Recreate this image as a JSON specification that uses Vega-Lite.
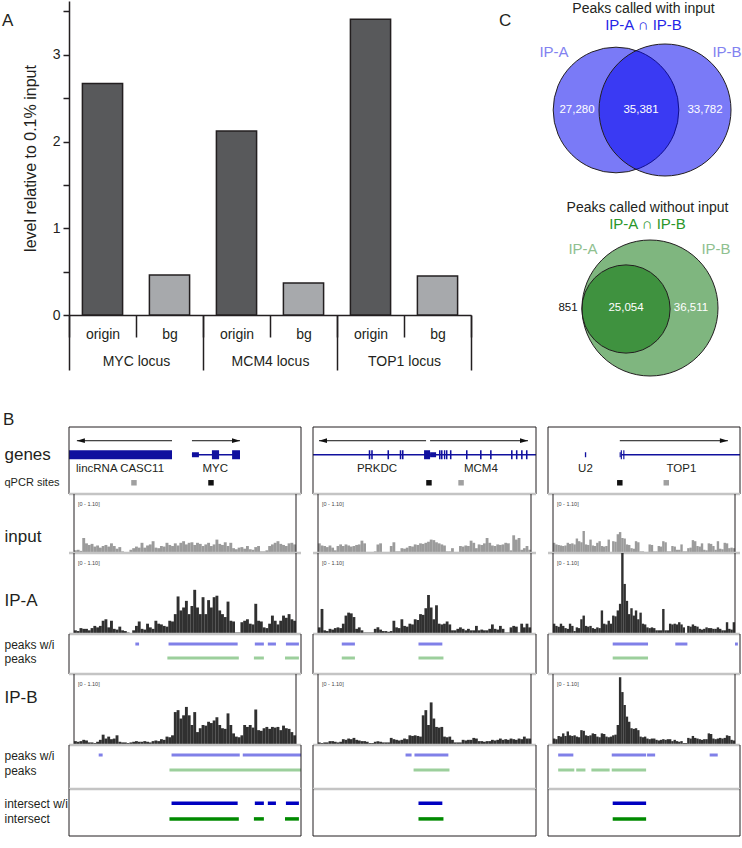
{
"$schema":"https://vega.github.io/schema/vega-lite/v6.json",
"background":"white",
"padding":{"left":2,"top":1,"right":0,"bottom":0},
"config":{
 "font":"Liberation Sans",
 "view":{"stroke":null},
 "axis":{"grid":false,"labelFont":"Liberation Sans","titleFont":"Liberation Sans","labelColor":"#231f20","titleColor":"#231f20","domainColor":"#231f20","tickColor":"#231f20","titleFontWeight":"normal"},
 "title":{"font":"Liberation Sans","subtitleFont":"Liberation Sans","fontWeight":"normal","color":"#231f20"},
 "text":{"font":"Liberation Sans"}
},
"datasets":{
"in1":[{"i":0,"v":0.05},{"i":1,"v":0.06},{"i":2,"v":0.04},{"i":3,"v":0.28},{"i":4,"v":0.18},{"i":5,"v":0.15},{"i":6,"v":0.17},{"i":7,"v":0.12},{"i":8,"v":0.14},{"i":9,"v":0.1},{"i":10,"v":0.13},{"i":11,"v":0.15},{"i":12,"v":0.12},{"i":13,"v":0.18},{"i":14,"v":0.13},{"i":15,"v":0.08},{"i":16,"v":0.11},{"i":17,"v":0.03},{"i":18,"v":0.01},{"i":19,"v":0.01},{"i":20,"v":0.06},{"i":21,"v":0.09},{"i":22,"v":0.12},{"i":23,"v":0.1},{"i":24,"v":0.19},{"i":25,"v":0.1},{"i":26,"v":0.14},{"i":27,"v":0.16},{"i":28,"v":0.22},{"i":29,"v":0.1},{"i":30,"v":0.09},{"i":31,"v":0.13},{"i":32,"v":0.12},{"i":33,"v":0.19},{"i":34,"v":0.15},{"i":35,"v":0.13},{"i":36,"v":0.18},{"i":37,"v":0.14},{"i":38,"v":0.19},{"i":39,"v":0.22},{"i":40,"v":0.16},{"i":41,"v":0.19},{"i":42,"v":0.2},{"i":43,"v":0.15},{"i":44,"v":0.19},{"i":45,"v":0.17},{"i":46,"v":0.13},{"i":47,"v":0.16},{"i":48,"v":0.19},{"i":49,"v":0.13},{"i":50,"v":0.16},{"i":51,"v":0.25},{"i":52,"v":0.17},{"i":53,"v":0.15},{"i":54,"v":0.2},{"i":55,"v":0.13},{"i":56,"v":0.19},{"i":57,"v":0.09},{"i":58,"v":0.07},{"i":59,"v":0.1},{"i":60,"v":0.11},{"i":61,"v":0.08},{"i":62,"v":0.13},{"i":63,"v":0.07},{"i":64,"v":0.06},{"i":65,"v":0.11},{"i":66,"v":0.13},{"i":67,"v":0.03},{"i":68,"v":0.03},{"i":69,"v":0.05},{"i":70,"v":0.13},{"i":71,"v":0.16},{"i":72,"v":0.19},{"i":73,"v":0.22},{"i":74,"v":0.17},{"i":75,"v":0.15},{"i":76,"v":0.13},{"i":77,"v":0.18},{"i":78,"v":0.19},{"i":79,"v":0.16}],
"a1":[{"i":0,"v":0.05},{"i":1,"v":0.04},{"i":2,"v":0.08},{"i":3,"v":0.07},{"i":4,"v":0.07},{"i":5,"v":0.05},{"i":6,"v":0.08},{"i":7,"v":0.11},{"i":8,"v":0.09},{"i":9,"v":0.11},{"i":10,"v":0.18},{"i":11,"v":0.2},{"i":12,"v":0.09},{"i":13,"v":0.18},{"i":14,"v":0.07},{"i":15,"v":0.06},{"i":16,"v":0.1},{"i":17,"v":0.05},{"i":18,"v":0.04},{"i":19,"v":0.02},{"i":20,"v":0.01},{"i":21,"v":0.05},{"i":22,"v":0.11},{"i":23,"v":0.17},{"i":24,"v":0.07},{"i":25,"v":0.06},{"i":26,"v":0.14},{"i":27,"v":0.09},{"i":28,"v":0.07},{"i":29,"v":0.18},{"i":30,"v":0.14},{"i":31,"v":0.13},{"i":32,"v":0.11},{"i":33,"v":0.1},{"i":34,"v":0.18},{"i":35,"v":0.17},{"i":36,"v":0.27},{"i":37,"v":0.51},{"i":38,"v":0.32},{"i":39,"v":0.36},{"i":40,"v":0.45},{"i":41,"v":0.27},{"i":42,"v":0.38},{"i":43,"v":0.6},{"i":44,"v":0.36},{"i":45,"v":0.27},{"i":46,"v":0.5},{"i":47,"v":0.27},{"i":48,"v":0.46},{"i":49,"v":0.36},{"i":50,"v":0.5},{"i":51,"v":0.52},{"i":52,"v":0.32},{"i":53,"v":0.27},{"i":54,"v":0.23},{"i":55,"v":0.44},{"i":56,"v":0.18},{"i":57,"v":0.17},{"i":58,"v":0.02},{"i":59,"v":0.02},{"i":60,"v":0.16},{"i":61,"v":0.18},{"i":62,"v":0.2},{"i":63,"v":0.14},{"i":64,"v":0.13},{"i":65,"v":0.41},{"i":66,"v":0.18},{"i":67,"v":0.17},{"i":68,"v":0.09},{"i":69,"v":0.08},{"i":70,"v":0.14},{"i":71,"v":0.25},{"i":72,"v":0.18},{"i":73,"v":0.13},{"i":74,"v":0.18},{"i":75,"v":0.25},{"i":76,"v":0.22},{"i":77,"v":0.27},{"i":78,"v":0.2},{"i":79,"v":0.18}],
"b1":[{"i":0,"v":0.06},{"i":1,"v":0.05},{"i":2,"v":0.06},{"i":3,"v":0.08},{"i":4,"v":0.07},{"i":5,"v":0.04},{"i":6,"v":0.04},{"i":7,"v":0.03},{"i":8,"v":0.05},{"i":9,"v":0.08},{"i":10,"v":0.16},{"i":11,"v":0.1},{"i":12,"v":0.13},{"i":13,"v":0.09},{"i":14,"v":0.1},{"i":15,"v":0.15},{"i":16,"v":0.05},{"i":17,"v":0.04},{"i":18,"v":0.04},{"i":19,"v":0.03},{"i":20,"v":0.04},{"i":21,"v":0.05},{"i":22,"v":0.06},{"i":23,"v":0.05},{"i":24,"v":0.05},{"i":25,"v":0.06},{"i":26,"v":0.05},{"i":27,"v":0.04},{"i":28,"v":0.06},{"i":29,"v":0.07},{"i":30,"v":0.06},{"i":31,"v":0.09},{"i":32,"v":0.08},{"i":33,"v":0.13},{"i":34,"v":0.12},{"i":35,"v":0.15},{"i":36,"v":0.51},{"i":37,"v":0.54},{"i":38,"v":0.41},{"i":39,"v":0.46},{"i":40,"v":0.59},{"i":41,"v":0.46},{"i":42,"v":0.31},{"i":43,"v":0.51},{"i":44,"v":0.2},{"i":45,"v":0.26},{"i":46,"v":0.31},{"i":47,"v":0.3},{"i":48,"v":0.36},{"i":49,"v":0.34},{"i":50,"v":0.38},{"i":51,"v":0.43},{"i":52,"v":0.31},{"i":53,"v":0.26},{"i":54,"v":0.25},{"i":55,"v":0.49},{"i":56,"v":0.31},{"i":57,"v":0.18},{"i":58,"v":0.13},{"i":59,"v":0.12},{"i":60,"v":0.15},{"i":61,"v":0.31},{"i":62,"v":0.28},{"i":63,"v":0.31},{"i":64,"v":0.27},{"i":65,"v":0.55},{"i":66,"v":0.23},{"i":67,"v":0.22},{"i":68,"v":0.26},{"i":69,"v":0.28},{"i":70,"v":0.25},{"i":71,"v":0.28},{"i":72,"v":0.27},{"i":73,"v":0.28},{"i":74,"v":0.23},{"i":75,"v":0.3},{"i":76,"v":0.26},{"i":77,"v":0.25},{"i":78,"v":0.2},{"i":79,"v":0.15}],
"in2":[{"i":0,"v":0.18},{"i":1,"v":0.14},{"i":2,"v":0.13},{"i":3,"v":0.11},{"i":4,"v":0.14},{"i":5,"v":0.1},{"i":6,"v":0.05},{"i":7,"v":0.13},{"i":8,"v":0.16},{"i":9,"v":0.13},{"i":10,"v":0.16},{"i":11,"v":0.14},{"i":12,"v":0.12},{"i":13,"v":0.13},{"i":14,"v":0.15},{"i":15,"v":0.16},{"i":16,"v":0.23},{"i":17,"v":0.18},{"i":18,"v":0.02},{"i":19,"v":0.02},{"i":20,"v":0.02},{"i":21,"v":0.03},{"i":22,"v":0.16},{"i":23,"v":0.18},{"i":24,"v":0.02},{"i":25,"v":0.02},{"i":26,"v":0.02},{"i":27,"v":0.13},{"i":28,"v":0.2},{"i":29,"v":0.03},{"i":30,"v":0.03},{"i":31,"v":0.09},{"i":32,"v":0.08},{"i":33,"v":0.1},{"i":34,"v":0.13},{"i":35,"v":0.12},{"i":36,"v":0.16},{"i":37,"v":0.15},{"i":38,"v":0.18},{"i":39,"v":0.17},{"i":40,"v":0.19},{"i":41,"v":0.21},{"i":42,"v":0.25},{"i":43,"v":0.24},{"i":44,"v":0.2},{"i":45,"v":0.18},{"i":46,"v":0.16},{"i":47,"v":0.14},{"i":48,"v":0.03},{"i":49,"v":0.03},{"i":50,"v":0.09},{"i":51,"v":0.02},{"i":52,"v":0.02},{"i":53,"v":0.13},{"i":54,"v":0.12},{"i":55,"v":0.14},{"i":56,"v":0.13},{"i":57,"v":0.23},{"i":58,"v":0.19},{"i":59,"v":0.09},{"i":60,"v":0.16},{"i":61,"v":0.15},{"i":62,"v":0.18},{"i":63,"v":0.28},{"i":64,"v":0.19},{"i":65,"v":0.14},{"i":66,"v":0.13},{"i":67,"v":0.16},{"i":68,"v":0.15},{"i":69,"v":0.16},{"i":70,"v":0.19},{"i":71,"v":0.18},{"i":72,"v":0.05},{"i":73,"v":0.33},{"i":74,"v":0.25},{"i":75,"v":0.28},{"i":76,"v":0.06},{"i":77,"v":0.09},{"i":78,"v":0.13},{"i":79,"v":0.06}],
"a2":[{"i":0,"v":0.09},{"i":1,"v":0.34},{"i":2,"v":0.05},{"i":3,"v":0.04},{"i":4,"v":0.07},{"i":5,"v":0.06},{"i":6,"v":0.08},{"i":7,"v":0.09},{"i":8,"v":0.08},{"i":9,"v":0.14},{"i":10,"v":0.25},{"i":11,"v":0.29},{"i":12,"v":0.28},{"i":13,"v":0.23},{"i":14,"v":0.07},{"i":15,"v":0.09},{"i":16,"v":0.05},{"i":17,"v":0.02},{"i":18,"v":0.02},{"i":19,"v":0.02},{"i":20,"v":0.02},{"i":21,"v":0.07},{"i":22,"v":0.09},{"i":23,"v":0.06},{"i":24,"v":0.04},{"i":25,"v":0.04},{"i":26,"v":0.03},{"i":27,"v":0.04},{"i":28,"v":0.18},{"i":29,"v":0.09},{"i":30,"v":0.08},{"i":31,"v":0.2},{"i":32,"v":0.11},{"i":33,"v":0.1},{"i":34,"v":0.14},{"i":35,"v":0.13},{"i":36,"v":0.2},{"i":37,"v":0.19},{"i":38,"v":0.27},{"i":39,"v":0.26},{"i":40,"v":0.35},{"i":41,"v":0.53},{"i":42,"v":0.36},{"i":43,"v":0.2},{"i":44,"v":0.39},{"i":45,"v":0.14},{"i":46,"v":0.13},{"i":47,"v":0.14},{"i":48,"v":0.17},{"i":49,"v":0.13},{"i":50,"v":0.05},{"i":51,"v":0.05},{"i":52,"v":0.07},{"i":53,"v":0.09},{"i":54,"v":0.07},{"i":55,"v":0.05},{"i":56,"v":0.07},{"i":57,"v":0.05},{"i":58,"v":0.05},{"i":59,"v":0.11},{"i":60,"v":0.05},{"i":61,"v":0.06},{"i":62,"v":0.05},{"i":63,"v":0.05},{"i":64,"v":0.07},{"i":65,"v":0.13},{"i":66,"v":0.07},{"i":67,"v":0.06},{"i":68,"v":0.11},{"i":69,"v":0.07},{"i":70,"v":0.02},{"i":71,"v":0.02},{"i":72,"v":0.09},{"i":73,"v":0.11},{"i":74,"v":0.1},{"i":75,"v":0.02},{"i":76,"v":0.14},{"i":77,"v":0.09},{"i":78,"v":0.14},{"i":79,"v":0.09}],
"b2":[{"i":0,"v":0.04},{"i":1,"v":0.03},{"i":2,"v":0.04},{"i":3,"v":0.04},{"i":4,"v":0.06},{"i":5,"v":0.06},{"i":6,"v":0.05},{"i":7,"v":0.04},{"i":8,"v":0.05},{"i":9,"v":0.09},{"i":10,"v":0.08},{"i":11,"v":0.1},{"i":12,"v":0.09},{"i":13,"v":0.11},{"i":14,"v":0.08},{"i":15,"v":0.07},{"i":16,"v":0.06},{"i":17,"v":0.06},{"i":18,"v":0.05},{"i":19,"v":0.03},{"i":20,"v":0.03},{"i":21,"v":0.05},{"i":22,"v":0.06},{"i":23,"v":0.05},{"i":24,"v":0.04},{"i":25,"v":0.04},{"i":26,"v":0.04},{"i":27,"v":0.11},{"i":28,"v":0.09},{"i":29,"v":0.08},{"i":30,"v":0.07},{"i":31,"v":0.08},{"i":32,"v":0.1},{"i":33,"v":0.09},{"i":34,"v":0.15},{"i":35,"v":0.14},{"i":36,"v":0.15},{"i":37,"v":0.14},{"i":38,"v":0.13},{"i":39,"v":0.46},{"i":40,"v":0.54},{"i":41,"v":0.31},{"i":42,"v":0.66},{"i":43,"v":0.41},{"i":44,"v":0.28},{"i":45,"v":0.27},{"i":46,"v":0.28},{"i":47,"v":0.13},{"i":48,"v":0.12},{"i":49,"v":0.13},{"i":50,"v":0.08},{"i":51,"v":0.04},{"i":52,"v":0.04},{"i":53,"v":0.04},{"i":54,"v":0.08},{"i":55,"v":0.07},{"i":56,"v":0.08},{"i":57,"v":0.08},{"i":58,"v":0.11},{"i":59,"v":0.1},{"i":60,"v":0.06},{"i":61,"v":0.06},{"i":62,"v":0.05},{"i":63,"v":0.06},{"i":64,"v":0.06},{"i":65,"v":0.08},{"i":66,"v":0.07},{"i":67,"v":0.08},{"i":68,"v":0.1},{"i":69,"v":0.08},{"i":70,"v":0.09},{"i":71,"v":0.08},{"i":72,"v":0.1},{"i":73,"v":0.09},{"i":74,"v":0.08},{"i":75,"v":0.1},{"i":76,"v":0.09},{"i":77,"v":0.13},{"i":78,"v":0.1},{"i":79,"v":0.1}],
"in3":[{"i":0,"v":0.19},{"i":1,"v":0.16},{"i":2,"v":0.15},{"i":3,"v":0.14},{"i":4,"v":0.13},{"i":5,"v":0.14},{"i":6,"v":0.19},{"i":7,"v":0.17},{"i":8,"v":0.18},{"i":9,"v":0.16},{"i":10,"v":0.27},{"i":11,"v":0.22},{"i":12,"v":0.2},{"i":13,"v":0.41},{"i":14,"v":0.16},{"i":15,"v":0.15},{"i":16,"v":0.25},{"i":17,"v":0.14},{"i":18,"v":0.13},{"i":19,"v":0.19},{"i":20,"v":0.22},{"i":21,"v":0.13},{"i":22,"v":0.12},{"i":23,"v":0.13},{"i":24,"v":0.25},{"i":25,"v":0.02},{"i":26,"v":0.22},{"i":27,"v":0.21},{"i":28,"v":0.35},{"i":29,"v":0.39},{"i":30,"v":0.28},{"i":31,"v":0.27},{"i":32,"v":0.16},{"i":33,"v":0.15},{"i":34,"v":0.09},{"i":35,"v":0.08},{"i":36,"v":0.22},{"i":37,"v":0.2},{"i":38,"v":0.03},{"i":39,"v":0.03},{"i":40,"v":0.02},{"i":41,"v":0.02},{"i":42,"v":0.16},{"i":43,"v":0.15},{"i":44,"v":0.03},{"i":45,"v":0.03},{"i":46,"v":0.13},{"i":47,"v":0.12},{"i":48,"v":0.22},{"i":49,"v":0.2},{"i":50,"v":0.03},{"i":51,"v":0.03},{"i":52,"v":0.13},{"i":53,"v":0.12},{"i":54,"v":0.06},{"i":55,"v":0.06},{"i":56,"v":0.16},{"i":57,"v":0.03},{"i":58,"v":0.03},{"i":59,"v":0.09},{"i":60,"v":0.1},{"i":61,"v":0.24},{"i":62,"v":0.22},{"i":63,"v":0.13},{"i":64,"v":0.12},{"i":65,"v":0.18},{"i":66,"v":0.06},{"i":67,"v":0.05},{"i":68,"v":0.18},{"i":69,"v":0.17},{"i":70,"v":0.13},{"i":71,"v":0.06},{"i":72,"v":0.22},{"i":73,"v":0.08},{"i":74,"v":0.07},{"i":75,"v":0.19},{"i":76,"v":0.18},{"i":77,"v":0.09},{"i":78,"v":0.1},{"i":79,"v":0.09}],
"a3":[{"i":0,"v":0.14},{"i":1,"v":0.11},{"i":2,"v":0.1},{"i":3,"v":0.14},{"i":4,"v":0.11},{"i":5,"v":0.08},{"i":6,"v":0.07},{"i":7,"v":0.14},{"i":8,"v":0.11},{"i":9,"v":0.04},{"i":10,"v":0.09},{"i":11,"v":0.08},{"i":12,"v":0.2},{"i":13,"v":0.25},{"i":14,"v":0.11},{"i":15,"v":0.1},{"i":16,"v":0.11},{"i":17,"v":0.08},{"i":18,"v":0.07},{"i":19,"v":0.09},{"i":20,"v":0.08},{"i":21,"v":0.32},{"i":22,"v":0.14},{"i":23,"v":0.13},{"i":24,"v":0.18},{"i":25,"v":0.14},{"i":26,"v":0.25},{"i":27,"v":0.24},{"i":28,"v":0.32},{"i":29,"v":0.41},{"i":30,"v":1.1},{"i":31,"v":0.68},{"i":32,"v":0.45},{"i":33,"v":0.27},{"i":34,"v":0.35},{"i":35,"v":0.25},{"i":36,"v":0.32},{"i":37,"v":0.2},{"i":38,"v":0.29},{"i":39,"v":0.14},{"i":40,"v":0.13},{"i":41,"v":0.09},{"i":42,"v":0.08},{"i":43,"v":0.09},{"i":44,"v":0.08},{"i":45,"v":0.05},{"i":46,"v":0.05},{"i":47,"v":0.05},{"i":48,"v":0.34},{"i":49,"v":0.05},{"i":50,"v":0.05},{"i":51,"v":0.14},{"i":52,"v":0.13},{"i":53,"v":0.14},{"i":54,"v":0.13},{"i":55,"v":0.16},{"i":56,"v":0.13},{"i":57,"v":0.09},{"i":58,"v":0.01},{"i":59,"v":0.11},{"i":60,"v":0.1},{"i":61,"v":0.13},{"i":62,"v":0.11},{"i":63,"v":0.1},{"i":64,"v":0.07},{"i":65,"v":0.06},{"i":66,"v":0.07},{"i":67,"v":0.09},{"i":68,"v":0.08},{"i":69,"v":0.08},{"i":70,"v":0.07},{"i":71,"v":0.07},{"i":72,"v":0.09},{"i":73,"v":0.07},{"i":74,"v":0.05},{"i":75,"v":0.05},{"i":76,"v":0.16},{"i":77,"v":0.07},{"i":78,"v":0.06},{"i":79,"v":0.16}],
"b3":[{"i":0,"v":0.1},{"i":1,"v":0.09},{"i":2,"v":0.14},{"i":3,"v":0.13},{"i":4,"v":0.18},{"i":5,"v":0.14},{"i":6,"v":0.21},{"i":7,"v":0.15},{"i":8,"v":0.14},{"i":9,"v":0.15},{"i":10,"v":0.13},{"i":11,"v":0.12},{"i":12,"v":0.23},{"i":13,"v":0.22},{"i":14,"v":0.15},{"i":15,"v":0.14},{"i":16,"v":0.15},{"i":17,"v":0.18},{"i":18,"v":0.17},{"i":19,"v":0.13},{"i":20,"v":0.12},{"i":21,"v":0.18},{"i":22,"v":0.17},{"i":23,"v":0.13},{"i":24,"v":0.12},{"i":25,"v":0.13},{"i":26,"v":0.15},{"i":27,"v":0.16},{"i":28,"v":0.31},{"i":29,"v":1.05},{"i":30,"v":0.82},{"i":31,"v":0.62},{"i":32,"v":0.44},{"i":33,"v":0.36},{"i":34,"v":0.26},{"i":35,"v":0.25},{"i":36,"v":0.26},{"i":37,"v":0.23},{"i":38,"v":0.13},{"i":39,"v":0.12},{"i":40,"v":0.13},{"i":41,"v":0.1},{"i":42,"v":0.09},{"i":43,"v":0.1},{"i":44,"v":0.1},{"i":45,"v":0.08},{"i":46,"v":0.07},{"i":47,"v":0.08},{"i":48,"v":0.09},{"i":49,"v":0.08},{"i":50,"v":0.09},{"i":51,"v":0.09},{"i":52,"v":0.06},{"i":53,"v":0.08},{"i":54,"v":0.06},{"i":55,"v":0.05},{"i":56,"v":0.06},{"i":57,"v":0.03},{"i":58,"v":0.03},{"i":59,"v":0.11},{"i":60,"v":0.1},{"i":61,"v":0.14},{"i":62,"v":0.11},{"i":63,"v":0.1},{"i":64,"v":0.09},{"i":65,"v":0.08},{"i":66,"v":0.09},{"i":67,"v":0.09},{"i":68,"v":0.18},{"i":69,"v":0.17},{"i":70,"v":0.1},{"i":71,"v":0.09},{"i":72,"v":0.1},{"i":73,"v":0.11},{"i":74,"v":0.1},{"i":75,"v":0.11},{"i":76,"v":0.15},{"i":77,"v":0.14},{"i":78,"v":0.08},{"i":79,"v":0.07}]
},
"vconcat":[
 {"hconcat":[
   {"width":402,"height":314,
    "title":{"text":"A","anchor":"start","frame":"group","baseline":"top","offset":-29,"dx":-67,"fontSize":17},
    "data":{"values":[
      {"locus":"MYC locus","site":"origin","key":"MYC origin","v":2.67},
      {"locus":"MYC locus","site":"bg","key":"MYC bg","v":0.46},
      {"locus":"MCM4 locus","site":"origin","key":"MCM4 origin","v":2.12},
      {"locus":"MCM4 locus","site":"bg","key":"MCM4 bg","v":0.37},
      {"locus":"TOP1 locus","site":"origin","key":"TOP1 origin","v":3.41},
      {"locus":"TOP1 locus","site":"bg","key":"TOP1 bg","v":0.45}]},
    "layer":[
      {"mark":{"type":"bar","stroke":"#231f20","strokeWidth":1.5,"width":{"band":0.6}},
       "encoding":{
         "x":{"field":"key","type":"nominal","sort":null,"scale":{"paddingInner":0,"paddingOuter":0},
              "axis":{"orient":"bottom","title":null,"labelExpr":"split(datum.value,' ')[1]","labelAngle":0,"tickBand":"extent","tickSize":22,"tickWidth":1.5,"domainWidth":1.5,"labelPadding":-10,"labelFontSize":14}},
         "y":{"field":"v","type":"quantitative","scale":{"domain":[0,3.62],"nice":false},
              "axis":{"values":[0,0.5,1,1.5,2,2.5,3,3.5],"labelExpr":"datum.value % 1 === 0 ? '' + datum.value : ''","tickSize":6,"tickWidth":1.5,"domainWidth":1.5,"labelFontSize":14,"labelPadding":3,"title":"level relative to 0.1% input","titleFontSize":16,"titlePadding":14}},
         "color":{"field":"site","type":"nominal","scale":{"domain":["origin","bg"],"range":["#58595b","#a7a9ac"]},"legend":null}}},
      {"mark":{"type":"rule","strokeOpacity":0},
       "encoding":{"x":{"field":"locus","type":"nominal","sort":null,"scale":{"type":"band","paddingInner":0,"paddingOuter":0},
         "axis":{"orient":"bottom","title":null,"domain":false,"tickBand":"extent","tickSize":55,"tickWidth":1.5,"labelPadding":-16,"labelFontSize":14,"labelAngle":0}}}}
    ],
    "resolve":{"scale":{"x":"independent"},"axis":{"x":"independent"}}},
   {"vconcat":[
     {"width":247,"height":185,
      "title":{"text":"Peaks called with input","subtitle":"IP-A ∩ IP-B","anchor":"middle","frame":"group","dx":25,"fontSize":14,"subtitleFontSize":15,"subtitleColor":"#2525e6","subtitlePadding":2,"offset":-32},
      "layer":[
        {"data":{"values":[{"set":"IP-A","n":62661,"cx":12.1,"cy":7.6},{"set":"IP-B","n":69163,"cx":17.0,"cy":7.6}]},
         "mark":{"type":"point","shape":"circle","filled":true,"color":"#0000f0","fillOpacity":0.52,"stroke":"#231f20","strokeWidth":1,"strokeOpacity":1,"opacity":1},
         "encoding":{
           "x":{"field":"cx","type":"quantitative","scale":{"domain":[0,24.7],"nice":false,"zero":false},"axis":null},
           "y":{"field":"cy","type":"quantitative","scale":{"domain":[0,18.5],"nice":false,"zero":false},"axis":null},
           "size":{"field":"n","type":"quantitative","scale":{"domain":[0,69163],"range":[0,17424],"zero":true},"legend":null}}},
        {"data":{"values":[{"t":"IP-A","x":5.9,"y":13.4},{"t":"IP-B","x":23.2,"y":13.4}]},
         "mark":{"type":"text","fontSize":15,"color":"#8282f0"},
         "encoding":{"x":{"field":"x","type":"quantitative","axis":null},"y":{"field":"y","type":"quantitative","axis":null},"text":{"field":"t"}}},
        {"data":{"values":[{"t":"27,280","x":8.2,"y":7.6},{"t":"35,381","x":14.6,"y":7.6},{"t":"33,782","x":21.0,"y":7.6}]},
         "mark":{"type":"text","fontSize":11.5,"color":"white"},
         "encoding":{"x":{"field":"x","type":"quantitative","axis":null},"y":{"field":"y","type":"quantitative","axis":null},"text":{"field":"t"}}}
      ]},
     {"width":247,"height":185,
      "title":{"text":"Peaks called without input","subtitle":"IP-A ∩ IP-B","anchor":"middle","frame":"group","dx":29,"fontSize":14,"subtitleFontSize":15,"subtitleColor":"#2a962a","subtitlePadding":2,"offset":-32},
      "layer":[
        {"data":{"values":[{"set":"IP-B","n":61565,"cx":15.5,"cy":7.7},{"set":"IP-A","n":25905,"cx":13.1,"cy":7.6}]},
         "mark":{"type":"point","shape":"circle","filled":true,"color":"#006e00","fillOpacity":0.5,"stroke":"#231f20","strokeWidth":1,"strokeOpacity":1,"opacity":1},
         "encoding":{
           "x":{"field":"cx","type":"quantitative","scale":{"domain":[0,24.7],"nice":false,"zero":false},"axis":null},
           "y":{"field":"cy","type":"quantitative","scale":{"domain":[0,18.5],"nice":false,"zero":false},"axis":null},
           "size":{"field":"n","type":"quantitative","scale":{"domain":[0,61565],"range":[0,18496],"zero":true},"legend":null}}},
        {"data":{"values":[{"t":"IP-A","x":8.8,"y":13.6},{"t":"IP-B","x":22.1,"y":13.6}]},
         "mark":{"type":"text","fontSize":15,"color":"#8fc08f"},
         "encoding":{"x":{"field":"x","type":"quantitative","axis":null},"y":{"field":"y","type":"quantitative","axis":null},"text":{"field":"t"}}},
        {"data":{"values":[{"t":"25,054","x":13.1,"y":7.7},{"t":"36,511","x":19.6,"y":7.7}]},
         "mark":{"type":"text","fontSize":11.5,"color":"white"},
         "encoding":{"x":{"field":"x","type":"quantitative","axis":null},"y":{"field":"y","type":"quantitative","axis":null},"text":{"field":"t"}}},
        {"data":{"values":[{"t":"851","x":7.3,"y":7.7}]},
         "mark":{"type":"text","fontSize":11.5,"color":"#111111"},
         "encoding":{"x":{"field":"x","type":"quantitative","axis":null},"y":{"field":"y","type":"quantitative","axis":null},"text":{"field":"t"}}}
      ]}
   ],"spacing":14,
   "resolve":{"scale":{"size":"independent"}},
   "title":{"text":"C","anchor":"start","frame":"group","baseline":"top","offset":-29,"dx":4,"fontSize":17}}
 ],"spacing":23},
 {"hconcat":[
   {"vconcat":[
     {"width":232,"height":67,
      "data":{"values":[{"f":"cds","s":0,"e":44.4},{"f":"line","s":53,"e":73.7},{"f":"utr","s":53,"e":56},{"f":"cds","s":61.6,"e":64.7},{"f":"cds","s":70.3,"e":73.7},{"f":"arrow","s":3.4,"e":44.4,"strand":"-"},{"f":"arrow","s":53,"e":73.7,"strand":"+"},{"f":"name","gene":"lincRNA CASC11","p":22},{"f":"name","gene":"MYC","p":63},{"f":"qpcr","site":"bg","p":28},{"f":"qpcr","site":"origin","p":61.2}]},
      "layer":[
        {"transform":[{"filter":"datum.f=='line'"}],"mark":{"type":"rule","color":"#10109e","strokeWidth":1.5},
         "encoding":{"x":{"field":"s","type":"quantitative","scale":{"domain":[0,100],"nice":false,"zero":false},"axis":null},"x2":{"field":"e"},
           "y":{"datum":"gene","type":"nominal","scale":{"type":"point","domain":["arrow","gene","name","qpcr"],"padding":0.89,"align":0.55},
             "axis":{"title":null,"domain":false,"ticks":false,"tickSize":0,"labelAlign":"left","labelPadding":65,"labelOverlap":false,"labelExpr":"datum.value=='gene'?'genes':datum.value=='qpcr'?'qPCR sites':''","labelFontSize":{"condition":{"test":"datum.value=='gene'","value":17},"value":11}}}}},
        {"transform":[{"filter":"datum.f=='cds'"}],"mark":{"type":"rule","color":"#10109e","strokeWidth":9,"strokeCap":"butt"},
         "encoding":{"x":{"field":"s","type":"quantitative","axis":null},"x2":{"field":"e"},"y":{"datum":"gene","type":"nominal"}}},
        {"transform":[{"filter":"datum.f=='utr'"}],"mark":{"type":"rule","color":"#10109e","strokeWidth":5,"strokeCap":"butt"},
         "encoding":{"x":{"field":"s","type":"quantitative","axis":null},"x2":{"field":"e"},"y":{"datum":"gene","type":"nominal"}}},
        {"transform":[{"filter":"datum.f=='arrow'"}],"mark":{"type":"rule","color":"#111111","strokeWidth":1},
         "encoding":{"x":{"field":"s","type":"quantitative","axis":null},"x2":{"field":"e"},"y":{"datum":"arrow","type":"nominal"}}},
        {"transform":[{"filter":"datum.f=='arrow' && datum.strand=='-'"}],"mark":{"type":"point","shape":"M0,0L2,-0.6L2,0.6Z","filled":true,"color":"#111111","size":64,"opacity":1},
         "encoding":{"x":{"field":"s","type":"quantitative","axis":null},"y":{"datum":"arrow","type":"nominal"}}},
        {"transform":[{"filter":"datum.f=='arrow' && datum.strand=='+'"}],"mark":{"type":"point","shape":"M0,0L-2,-0.6L-2,0.6Z","filled":true,"color":"#111111","size":64,"opacity":1},
         "encoding":{"x":{"field":"e","type":"quantitative","axis":null},"y":{"datum":"arrow","type":"nominal"}}},
        {"transform":[{"filter":"datum.f=='name'"}],"mark":{"type":"text","fontSize":11.5,"color":"#231f20"},
         "encoding":{"x":{"field":"p","type":"quantitative","axis":null},"y":{"datum":"name","type":"nominal"},"text":{"field":"gene"}}},
        {"transform":[{"filter":"datum.f=='qpcr' && datum.site=='origin'"}],"mark":{"type":"point","shape":"square","filled":true,"size":30,"opacity":1,"color":"#111111"},
         "encoding":{"x":{"field":"p","type":"quantitative","axis":null},"y":{"datum":"qpcr","type":"nominal"}}},
        {"transform":[{"filter":"datum.f=='qpcr' && datum.site=='bg'"}],"mark":{"type":"point","shape":"square","filled":true,"size":30,"opacity":1,"color":"#a0a0a0"},
         "encoding":{"x":{"field":"p","type":"quantitative","axis":null},"y":{"datum":"qpcr","type":"nominal"}}},
        {"data":{"values":[{}]},"mark":{"type":"rule","color":"#231f20","strokeWidth":1},"encoding":{"x":{"datum":0,"type":"quantitative","axis":null}}},
        {"data":{"values":[{}]},"mark":{"type":"rule","color":"#231f20","strokeWidth":1},"encoding":{"x":{"datum":100,"type":"quantitative","axis":null}}},
        {"data":{"values":[{}]},"mark":{"type":"rule","color":"#231f20","strokeWidth":1},"encoding":{"y":{"value":0}}},
        {"data":{"values":[{}]},"mark":{"type":"rule","color":"#c4c4c4","strokeWidth":2.5},"encoding":{"y":{"value":"height"}}}
      ]},
     {"width":232,"height":59,"data":{"name":"in1"},
      "layer":[
        {"mark":{"type":"bar","orient":"vertical","width":2.9,"color":"#9b9b9b"},
         "encoding":{"x":{"field":"i","type":"quantitative","scale":{"domain":[-0.5,79.5],"nice":false,"zero":false},"axis":null},
           "y":{"field":"v","type":"quantitative","scale":{"domain":[0,1.1],"nice":false},
             "axis":{"title":"input","titleAngle":0,"titleAlign":"left","titleBaseline":"middle","titleX":-65,"titleY":42,"titleFontSize":17,"labels":false,"ticks":false,"domain":false}}}},
        {"data":{"values":[{}]},"mark":{"type":"text","text":"[0 - 1.10]","fontSize":5.5,"align":"left","baseline":"middle","dx":4,"dy":10,"color":"#444444"},
         "encoding":{"x":{"datum":-0.5,"type":"quantitative","axis":null},"y":{"datum":1.1,"type":"quantitative"}}},
        {"data":{"values":[{}]},"mark":{"type":"rule","color":"#231f20","strokeWidth":1},"encoding":{"x":{"datum":-0.5,"type":"quantitative","axis":null}}},
        {"data":{"values":[{}]},"mark":{"type":"rule","color":"#231f20","strokeWidth":1},"encoding":{"x":{"datum":79.5,"type":"quantitative","axis":null}}},
        {"data":{"values":[{}]},"mark":{"type":"rule","color":"#c4c4c4","strokeWidth":2.5},"encoding":{"y":{"datum":0,"type":"quantitative"}}}
      ]},
     {"width":232,"height":81,"data":{"name":"a1"},
      "layer":[
        {"mark":{"type":"bar","orient":"vertical","width":2.9,"color":"#303030"},
         "encoding":{"x":{"field":"i","type":"quantitative","scale":{"domain":[-0.5,79.5],"nice":false,"zero":false},"axis":null},
           "y":{"field":"v","type":"quantitative","scale":{"domain":[0,1.1],"nice":false},
             "axis":{"title":"IP-A","titleAngle":0,"titleAlign":"left","titleBaseline":"middle","titleX":-65,"titleY":47,"titleFontSize":17,"labels":false,"ticks":false,"domain":false}}}},
        {"data":{"values":[{}]},"mark":{"type":"text","text":"[0 - 1.10]","fontSize":5.5,"align":"left","baseline":"middle","dx":4,"dy":10,"color":"#444444"},
         "encoding":{"x":{"datum":-0.5,"type":"quantitative","axis":null},"y":{"datum":1.1,"type":"quantitative"}}},
        {"data":{"values":[{}]},"mark":{"type":"rule","color":"#231f20","strokeWidth":1},"encoding":{"x":{"datum":-0.5,"type":"quantitative","axis":null}}},
        {"data":{"values":[{}]},"mark":{"type":"rule","color":"#231f20","strokeWidth":1},"encoding":{"x":{"datum":79.5,"type":"quantitative","axis":null}}},
        {"data":{"values":[{}]},"mark":{"type":"rule","color":"#c4c4c4","strokeWidth":2.5},"encoding":{"y":{"datum":0,"type":"quantitative"}}}
      ]},
     {"width":232,"height":40,
      "data":{"values":[{"r":"w/i","s":28.6,"e":30.2},{"r":"w/i","s":42.9,"e":72.7},{"r":"w/i","s":80.1,"e":84.0},{"r":"w/i","s":85.7,"e":89.2},{"r":"w/i","s":93.5,"e":99.1},{"r":"w/o","s":42.4,"e":73.2},{"r":"w/o","s":79.7,"e":84.0},{"r":"w/o","s":93.1,"e":99.1}]},
      "layer":[
        {"transform":[{"filter":"datum.r=='w/i'"}],"mark":{"type":"rule","strokeWidth":3,"strokeCap":"butt","color":"#8080e8"},
         "encoding":{"x":{"field":"s","type":"quantitative","scale":{"domain":[0,100],"nice":false,"zero":false},"axis":null},"x2":{"field":"e"},
           "y":{"field":"r","type":"nominal","scale":{"type":"point","domain":["w/i","w/o"],"padding":0.93,"align":0.385},
             "axis":{"title":null,"domain":false,"ticks":false,"tickSize":0,"labelAlign":"left","labelPadding":65,"labelOverlap":false,"labelFontSize":12,"labelExpr":"datum.value=='w/i'?'peaks w/i':'peaks'"}}}},
        {"transform":[{"filter":"datum.r=='w/o'"}],"mark":{"type":"rule","strokeWidth":3,"strokeCap":"butt","color":"#9ccf9c"},
         "encoding":{"x":{"field":"s","type":"quantitative","axis":null},"x2":{"field":"e"},"y":{"field":"r","type":"nominal"}}},
        {"data":{"values":[{}]},"mark":{"type":"rule","color":"#231f20","strokeWidth":1},"encoding":{"x":{"datum":0,"type":"quantitative","axis":null}}},
        {"data":{"values":[{}]},"mark":{"type":"rule","color":"#231f20","strokeWidth":1},"encoding":{"x":{"datum":100,"type":"quantitative","axis":null}}},
        {"data":{"values":[{}]},"mark":{"type":"rule","color":"#c4c4c4","strokeWidth":2.5},"encoding":{"y":{"value":"height"}}}
      ]},
     {"width":232,"height":71,"data":{"name":"b1"},
      "layer":[
        {"mark":{"type":"bar","orient":"vertical","width":2.9,"color":"#303030"},
         "encoding":{"x":{"field":"i","type":"quantitative","scale":{"domain":[-0.5,79.5],"nice":false,"zero":false},"axis":null},
           "y":{"field":"v","type":"quantitative","scale":{"domain":[0,1.1],"nice":false},
             "axis":{"title":"IP-B","titleAngle":0,"titleAlign":"left","titleBaseline":"middle","titleX":-65,"titleY":23,"titleFontSize":17,"labels":false,"ticks":false,"domain":false}}}},
        {"data":{"values":[{}]},"mark":{"type":"text","text":"[0 - 1.10]","fontSize":5.5,"align":"left","baseline":"middle","dx":4,"dy":10,"color":"#444444"},
         "encoding":{"x":{"datum":-0.5,"type":"quantitative","axis":null},"y":{"datum":1.1,"type":"quantitative"}}},
        {"data":{"values":[{}]},"mark":{"type":"rule","color":"#231f20","strokeWidth":1},"encoding":{"x":{"datum":-0.5,"type":"quantitative","axis":null}}},
        {"data":{"values":[{}]},"mark":{"type":"rule","color":"#231f20","strokeWidth":1},"encoding":{"x":{"datum":79.5,"type":"quantitative","axis":null}}},
        {"data":{"values":[{}]},"mark":{"type":"rule","color":"#c4c4c4","strokeWidth":2.5},"encoding":{"y":{"datum":0,"type":"quantitative"}}}
      ]},
     {"width":232,"height":44,
      "data":{"values":[{"r":"w/i","s":12.8,"e":14.5},{"r":"w/i","s":44.2,"e":73.6},{"r":"w/i","s":74.9,"e":100},{"r":"w/o","s":43.3,"e":100}]},
      "layer":[
        {"transform":[{"filter":"datum.r=='w/i'"}],"mark":{"type":"rule","strokeWidth":3,"strokeCap":"butt","color":"#8080e8"},
         "encoding":{"x":{"field":"s","type":"quantitative","scale":{"domain":[0,100],"nice":false,"zero":false},"axis":null},"x2":{"field":"e"},
           "y":{"field":"r","type":"nominal","scale":{"type":"point","domain":["w/i","w/o"],"padding":0.967,"align":0.345},
             "axis":{"title":null,"domain":false,"ticks":false,"tickSize":0,"labelAlign":"left","labelPadding":65,"labelOverlap":false,"labelFontSize":12,"labelExpr":"datum.value=='w/i'?'peaks w/i':'peaks'"}}}},
        {"transform":[{"filter":"datum.r=='w/o'"}],"mark":{"type":"rule","strokeWidth":3,"strokeCap":"butt","color":"#9ccf9c"},
         "encoding":{"x":{"field":"s","type":"quantitative","axis":null},"x2":{"field":"e"},"y":{"field":"r","type":"nominal"}}},
        {"data":{"values":[{}]},"mark":{"type":"rule","color":"#231f20","strokeWidth":1},"encoding":{"x":{"datum":0,"type":"quantitative","axis":null}}},
        {"data":{"values":[{}]},"mark":{"type":"rule","color":"#231f20","strokeWidth":1},"encoding":{"x":{"datum":100,"type":"quantitative","axis":null}}},
        {"data":{"values":[{}]},"mark":{"type":"rule","color":"#c4c4c4","strokeWidth":2.5},"encoding":{"y":{"value":"height"}}}
      ]},
     {"width":232,"height":47,
      "data":{"values":[{"r":"w/i","s":44.2,"e":72.7},{"r":"w/i","s":80.1,"e":84.0},{"r":"w/i","s":85.7,"e":89.2},{"r":"w/i","s":93.5,"e":99.1},{"r":"w/o","s":43.3,"e":73.2},{"r":"w/o","s":79.7,"e":84.0},{"r":"w/o","s":93.1,"e":99.1}]},
      "layer":[
        {"transform":[{"filter":"datum.r=='w/i'"}],"mark":{"type":"rule","strokeWidth":3.5,"strokeCap":"butt","color":"#0000c0"},
         "encoding":{"x":{"field":"s","type":"quantitative","scale":{"domain":[0,100],"nice":false,"zero":false},"axis":null},"x2":{"field":"e"},
           "y":{"field":"r","type":"nominal","scale":{"type":"point","domain":["w/i","w/o"],"padding":1.18,"align":0.4545},
             "axis":{"title":null,"domain":false,"ticks":false,"tickSize":0,"labelAlign":"left","labelPadding":65,"labelOverlap":false,"labelFontSize":12,"labelExpr":"datum.value=='w/i'?'intersect w/i':'intersect'"}}}},
        {"transform":[{"filter":"datum.r=='w/o'"}],"mark":{"type":"rule","strokeWidth":3.5,"strokeCap":"butt","color":"#008a00"},
         "encoding":{"x":{"field":"s","type":"quantitative","axis":null},"x2":{"field":"e"},"y":{"field":"r","type":"nominal"}}},
        {"data":{"values":[{}]},"mark":{"type":"rule","color":"#231f20","strokeWidth":1},"encoding":{"x":{"datum":0,"type":"quantitative","axis":null}}},
        {"data":{"values":[{}]},"mark":{"type":"rule","color":"#231f20","strokeWidth":1},"encoding":{"x":{"datum":100,"type":"quantitative","axis":null}}},
        {"data":{"values":[{}]},"mark":{"type":"rule","color":"#231f20","strokeWidth":1},"encoding":{"y":{"value":"height"}}}
      ]}
   ],"spacing":0,"bounds":"flush"},
   {"vconcat":[
     {"width":223,"height":67,
      "data":{"values":[{"f":"line","s":0,"e":100},{"f":"cds","s":25.0,"e":25.7},{"f":"cds","s":26.1,"e":26.8},{"f":"cds","s":33.4,"e":34.1},{"f":"cds","s":38.9,"e":39.6},{"f":"cds","s":39.9,"e":40.6},{"f":"cds","s":49.8,"e":52.5},{"f":"utr","s":52.5,"e":55.2},{"f":"cds","s":56.5,"e":57.2},{"f":"cds","s":57.4,"e":58.1},{"f":"cds","s":58.7,"e":59.3},{"f":"cds","s":59.6,"e":60.3},{"f":"cds","s":61.4,"e":62.1},{"f":"cds","s":68.6,"e":69.3},{"f":"cds","s":74.9,"e":75.6},{"f":"cds","s":79.4,"e":80.1},{"f":"cds","s":88.8,"e":89.5},{"f":"cds","s":91.0,"e":91.7},{"f":"cds","s":93.3,"e":94.0},{"f":"cds","s":95.5,"e":96.2},{"f":"arrow","s":2.7,"e":50.7,"strand":"-"},{"f":"arrow","s":52.5,"e":96.4,"strand":"+"},{"f":"name","gene":"PRKDC","p":28.7},{"f":"name","gene":"MCM4","p":75.3},{"f":"qpcr","site":"origin","p":52.0},{"f":"qpcr","site":"bg","p":66.4}]},
      "layer":[
        {"transform":[{"filter":"datum.f=='line'"}],"mark":{"type":"rule","color":"#10109e","strokeWidth":1.5},
         "encoding":{"x":{"field":"s","type":"quantitative","scale":{"domain":[0,100],"nice":false,"zero":false},"axis":null},"x2":{"field":"e"},
           "y":{"datum":"gene","type":"nominal","scale":{"type":"point","domain":["arrow","gene","name","qpcr"],"padding":0.89,"align":0.55},"axis":null}}},
        {"transform":[{"filter":"datum.f=='cds'"}],"mark":{"type":"rule","color":"#10109e","strokeWidth":9,"strokeCap":"butt"},
         "encoding":{"x":{"field":"s","type":"quantitative","axis":null},"x2":{"field":"e"},"y":{"datum":"gene","type":"nominal","axis":null}}},
        {"transform":[{"filter":"datum.f=='utr'"}],"mark":{"type":"rule","color":"#10109e","strokeWidth":5,"strokeCap":"butt"},
         "encoding":{"x":{"field":"s","type":"quantitative","axis":null},"x2":{"field":"e"},"y":{"datum":"gene","type":"nominal","axis":null}}},
        {"transform":[{"filter":"datum.f=='arrow'"}],"mark":{"type":"rule","color":"#111111","strokeWidth":1},
         "encoding":{"x":{"field":"s","type":"quantitative","axis":null},"x2":{"field":"e"},"y":{"datum":"arrow","type":"nominal","axis":null}}},
        {"transform":[{"filter":"datum.f=='arrow' && datum.strand=='-'"}],"mark":{"type":"point","shape":"M0,0L2,-0.6L2,0.6Z","filled":true,"color":"#111111","size":64,"opacity":1},
         "encoding":{"x":{"field":"s","type":"quantitative","axis":null},"y":{"datum":"arrow","type":"nominal","axis":null}}},
        {"transform":[{"filter":"datum.f=='arrow' && datum.strand=='+'"}],"mark":{"type":"point","shape":"M0,0L-2,-0.6L-2,0.6Z","filled":true,"color":"#111111","size":64,"opacity":1},
         "encoding":{"x":{"field":"e","type":"quantitative","axis":null},"y":{"datum":"arrow","type":"nominal","axis":null}}},
        {"transform":[{"filter":"datum.f=='name'"}],"mark":{"type":"text","fontSize":11.5,"color":"#231f20"},
         "encoding":{"x":{"field":"p","type":"quantitative","axis":null},"y":{"datum":"name","type":"nominal","axis":null},"text":{"field":"gene"}}},
        {"transform":[{"filter":"datum.f=='qpcr' && datum.site=='origin'"}],"mark":{"type":"point","shape":"square","filled":true,"size":30,"opacity":1,"color":"#111111"},
         "encoding":{"x":{"field":"p","type":"quantitative","axis":null},"y":{"datum":"qpcr","type":"nominal","axis":null}}},
        {"transform":[{"filter":"datum.f=='qpcr' && datum.site=='bg'"}],"mark":{"type":"point","shape":"square","filled":true,"size":30,"opacity":1,"color":"#a0a0a0"},
         "encoding":{"x":{"field":"p","type":"quantitative","axis":null},"y":{"datum":"qpcr","type":"nominal","axis":null}}},
        {"data":{"values":[{}]},"mark":{"type":"rule","color":"#231f20","strokeWidth":1},"encoding":{"x":{"datum":0,"type":"quantitative","axis":null}}},
        {"data":{"values":[{}]},"mark":{"type":"rule","color":"#231f20","strokeWidth":1},"encoding":{"x":{"datum":100,"type":"quantitative","axis":null}}},
        {"data":{"values":[{}]},"mark":{"type":"rule","color":"#231f20","strokeWidth":1},"encoding":{"y":{"value":0}}},
        {"data":{"values":[{}]},"mark":{"type":"rule","color":"#c4c4c4","strokeWidth":2.5},"encoding":{"y":{"value":"height"}}}
      ]},
     {"width":223,"height":59,"data":{"name":"in2"},
      "layer":[
        {"mark":{"type":"bar","orient":"vertical","width":2.8,"color":"#9b9b9b"},
         "encoding":{"x":{"field":"i","type":"quantitative","scale":{"domain":[-0.5,79.5],"nice":false,"zero":false},"axis":null},
           "y":{"field":"v","type":"quantitative","scale":{"domain":[0,1.1],"nice":false},"axis":null}}},
        {"data":{"values":[{}]},"mark":{"type":"text","text":"[0 - 1.10]","fontSize":5.5,"align":"left","baseline":"middle","dx":4,"dy":10,"color":"#444444"},
         "encoding":{"x":{"datum":-0.5,"type":"quantitative","axis":null},"y":{"datum":1.1,"type":"quantitative","axis":null}}},
        {"data":{"values":[{}]},"mark":{"type":"rule","color":"#231f20","strokeWidth":1},"encoding":{"x":{"datum":-0.5,"type":"quantitative","axis":null}}},
        {"data":{"values":[{}]},"mark":{"type":"rule","color":"#231f20","strokeWidth":1},"encoding":{"x":{"datum":79.5,"type":"quantitative","axis":null}}},
        {"data":{"values":[{}]},"mark":{"type":"rule","color":"#c4c4c4","strokeWidth":2.5},"encoding":{"y":{"datum":0,"type":"quantitative","axis":null}}}
      ]},
     {"width":223,"height":81,"data":{"name":"a2"},
      "layer":[
        {"mark":{"type":"bar","orient":"vertical","width":2.8,"color":"#303030"},
         "encoding":{"x":{"field":"i","type":"quantitative","scale":{"domain":[-0.5,79.5],"nice":false,"zero":false},"axis":null},
           "y":{"field":"v","type":"quantitative","scale":{"domain":[0,1.1],"nice":false},"axis":null}}},
        {"data":{"values":[{}]},"mark":{"type":"text","text":"[0 - 1.10]","fontSize":5.5,"align":"left","baseline":"middle","dx":4,"dy":10,"color":"#444444"},
         "encoding":{"x":{"datum":-0.5,"type":"quantitative","axis":null},"y":{"datum":1.1,"type":"quantitative","axis":null}}},
        {"data":{"values":[{}]},"mark":{"type":"rule","color":"#231f20","strokeWidth":1},"encoding":{"x":{"datum":-0.5,"type":"quantitative","axis":null}}},
        {"data":{"values":[{}]},"mark":{"type":"rule","color":"#231f20","strokeWidth":1},"encoding":{"x":{"datum":79.5,"type":"quantitative","axis":null}}},
        {"data":{"values":[{}]},"mark":{"type":"rule","color":"#c4c4c4","strokeWidth":2.5},"encoding":{"y":{"datum":0,"type":"quantitative","axis":null}}}
      ]},
     {"width":223,"height":40,
      "data":{"values":[{"r":"w/i","s":12.9,"e":18.8},{"r":"w/i","s":47.3,"e":58.0},{"r":"w/o","s":12.9,"e":18.8},{"r":"w/o","s":47.3,"e":58.5}]},
      "layer":[
        {"transform":[{"filter":"datum.r=='w/i'"}],"mark":{"type":"rule","strokeWidth":3,"strokeCap":"butt","color":"#8080e8"},
         "encoding":{"x":{"field":"s","type":"quantitative","scale":{"domain":[0,100],"nice":false,"zero":false},"axis":null},"x2":{"field":"e"},
           "y":{"field":"r","type":"nominal","scale":{"type":"point","domain":["w/i","w/o"],"padding":0.93,"align":0.385},"axis":null}}},
        {"transform":[{"filter":"datum.r=='w/o'"}],"mark":{"type":"rule","strokeWidth":3,"strokeCap":"butt","color":"#9ccf9c"},
         "encoding":{"x":{"field":"s","type":"quantitative","axis":null},"x2":{"field":"e"},"y":{"field":"r","type":"nominal","axis":null}}},
        {"data":{"values":[{}]},"mark":{"type":"rule","color":"#231f20","strokeWidth":1},"encoding":{"x":{"datum":0,"type":"quantitative","axis":null}}},
        {"data":{"values":[{}]},"mark":{"type":"rule","color":"#231f20","strokeWidth":1},"encoding":{"x":{"datum":100,"type":"quantitative","axis":null}}},
        {"data":{"values":[{}]},"mark":{"type":"rule","color":"#c4c4c4","strokeWidth":2.5},"encoding":{"y":{"value":"height"}}}
      ]},
     {"width":223,"height":71,"data":{"name":"b2"},
      "layer":[
        {"mark":{"type":"bar","orient":"vertical","width":2.8,"color":"#303030"},
         "encoding":{"x":{"field":"i","type":"quantitative","scale":{"domain":[-0.5,79.5],"nice":false,"zero":false},"axis":null},
           "y":{"field":"v","type":"quantitative","scale":{"domain":[0,1.1],"nice":false},"axis":null}}},
        {"data":{"values":[{}]},"mark":{"type":"text","text":"[0 - 1.10]","fontSize":5.5,"align":"left","baseline":"middle","dx":4,"dy":10,"color":"#444444"},
         "encoding":{"x":{"datum":-0.5,"type":"quantitative","axis":null},"y":{"datum":1.1,"type":"quantitative","axis":null}}},
        {"data":{"values":[{}]},"mark":{"type":"rule","color":"#231f20","strokeWidth":1},"encoding":{"x":{"datum":-0.5,"type":"quantitative","axis":null}}},
        {"data":{"values":[{}]},"mark":{"type":"rule","color":"#231f20","strokeWidth":1},"encoding":{"x":{"datum":79.5,"type":"quantitative","axis":null}}},
        {"data":{"values":[{}]},"mark":{"type":"rule","color":"#c4c4c4","strokeWidth":2.5},"encoding":{"y":{"datum":0,"type":"quantitative","axis":null}}}
      ]},
     {"width":223,"height":44,
      "data":{"values":[{"r":"w/i","s":41.5,"e":44.2},{"r":"w/i","s":45.5,"e":60.7},{"r":"w/o","s":45.1,"e":61.2}]},
      "layer":[
        {"transform":[{"filter":"datum.r=='w/i'"}],"mark":{"type":"rule","strokeWidth":3,"strokeCap":"butt","color":"#8080e8"},
         "encoding":{"x":{"field":"s","type":"quantitative","scale":{"domain":[0,100],"nice":false,"zero":false},"axis":null},"x2":{"field":"e"},
           "y":{"field":"r","type":"nominal","scale":{"type":"point","domain":["w/i","w/o"],"padding":0.967,"align":0.345},"axis":null}}},
        {"transform":[{"filter":"datum.r=='w/o'"}],"mark":{"type":"rule","strokeWidth":3,"strokeCap":"butt","color":"#9ccf9c"},
         "encoding":{"x":{"field":"s","type":"quantitative","axis":null},"x2":{"field":"e"},"y":{"field":"r","type":"nominal","axis":null}}},
        {"data":{"values":[{}]},"mark":{"type":"rule","color":"#231f20","strokeWidth":1},"encoding":{"x":{"datum":0,"type":"quantitative","axis":null}}},
        {"data":{"values":[{}]},"mark":{"type":"rule","color":"#231f20","strokeWidth":1},"encoding":{"x":{"datum":100,"type":"quantitative","axis":null}}},
        {"data":{"values":[{}]},"mark":{"type":"rule","color":"#c4c4c4","strokeWidth":2.5},"encoding":{"y":{"value":"height"}}}
      ]},
     {"width":223,"height":47,
      "data":{"values":[{"r":"w/i","s":47.3,"e":58.0},{"r":"w/o","s":47.3,"e":58.5}]},
      "layer":[
        {"transform":[{"filter":"datum.r=='w/i'"}],"mark":{"type":"rule","strokeWidth":3.5,"strokeCap":"butt","color":"#0000c0"},
         "encoding":{"x":{"field":"s","type":"quantitative","scale":{"domain":[0,100],"nice":false,"zero":false},"axis":null},"x2":{"field":"e"},
           "y":{"field":"r","type":"nominal","scale":{"type":"point","domain":["w/i","w/o"],"padding":1.18,"align":0.4545},"axis":null}}},
        {"transform":[{"filter":"datum.r=='w/o'"}],"mark":{"type":"rule","strokeWidth":3.5,"strokeCap":"butt","color":"#008a00"},
         "encoding":{"x":{"field":"s","type":"quantitative","axis":null},"x2":{"field":"e"},"y":{"field":"r","type":"nominal","axis":null}}},
        {"data":{"values":[{}]},"mark":{"type":"rule","color":"#231f20","strokeWidth":1},"encoding":{"x":{"datum":0,"type":"quantitative","axis":null}}},
        {"data":{"values":[{}]},"mark":{"type":"rule","color":"#231f20","strokeWidth":1},"encoding":{"x":{"datum":100,"type":"quantitative","axis":null}}},
        {"data":{"values":[{}]},"mark":{"type":"rule","color":"#231f20","strokeWidth":1},"encoding":{"y":{"value":"height"}}}
      ]}
   ],"spacing":0,"bounds":"flush"},
   {"vconcat":[
     {"width":192,"height":67,
      "data":{"values":[{"f":"line","s":38.4,"e":100},{"f":"utr","s":19.2,"e":19.9},{"f":"utr","s":37.3,"e":37.9},{"f":"cds","s":37.9,"e":38.5},{"f":"cds","s":39.2,"e":39.8},{"f":"arrow","s":37.4,"e":93.7,"strand":"+"},{"f":"name","gene":"U2","p":19.5},{"f":"name","gene":"TOP1","p":69.5},{"f":"qpcr","site":"origin","p":37.4},{"f":"qpcr","site":"bg","p":61.6}]},
      "layer":[
        {"transform":[{"filter":"datum.f=='line'"}],"mark":{"type":"rule","color":"#10109e","strokeWidth":1.5},
         "encoding":{"x":{"field":"s","type":"quantitative","scale":{"domain":[0,100],"nice":false,"zero":false},"axis":null},"x2":{"field":"e"},
           "y":{"datum":"gene","type":"nominal","scale":{"type":"point","domain":["arrow","gene","name","qpcr"],"padding":0.89,"align":0.55},"axis":null}}},
        {"transform":[{"filter":"datum.f=='cds'"}],"mark":{"type":"rule","color":"#10109e","strokeWidth":9,"strokeCap":"butt"},
         "encoding":{"x":{"field":"s","type":"quantitative","axis":null},"x2":{"field":"e"},"y":{"datum":"gene","type":"nominal","axis":null}}},
        {"transform":[{"filter":"datum.f=='utr'"}],"mark":{"type":"rule","color":"#10109e","strokeWidth":5,"strokeCap":"butt"},
         "encoding":{"x":{"field":"s","type":"quantitative","axis":null},"x2":{"field":"e"},"y":{"datum":"gene","type":"nominal","axis":null}}},
        {"transform":[{"filter":"datum.f=='arrow'"}],"mark":{"type":"rule","color":"#111111","strokeWidth":1},
         "encoding":{"x":{"field":"s","type":"quantitative","axis":null},"x2":{"field":"e"},"y":{"datum":"arrow","type":"nominal","axis":null}}},
        {"transform":[{"filter":"datum.f=='arrow' && datum.strand=='+'"}],"mark":{"type":"point","shape":"M0,0L-2,-0.6L-2,0.6Z","filled":true,"color":"#111111","size":64,"opacity":1},
         "encoding":{"x":{"field":"e","type":"quantitative","axis":null},"y":{"datum":"arrow","type":"nominal","axis":null}}},
        {"transform":[{"filter":"datum.f=='name'"}],"mark":{"type":"text","fontSize":11.5,"color":"#231f20"},
         "encoding":{"x":{"field":"p","type":"quantitative","axis":null},"y":{"datum":"name","type":"nominal","axis":null},"text":{"field":"gene"}}},
        {"transform":[{"filter":"datum.f=='qpcr' && datum.site=='origin'"}],"mark":{"type":"point","shape":"square","filled":true,"size":30,"opacity":1,"color":"#111111"},
         "encoding":{"x":{"field":"p","type":"quantitative","axis":null},"y":{"datum":"qpcr","type":"nominal","axis":null}}},
        {"transform":[{"filter":"datum.f=='qpcr' && datum.site=='bg'"}],"mark":{"type":"point","shape":"square","filled":true,"size":30,"opacity":1,"color":"#a0a0a0"},
         "encoding":{"x":{"field":"p","type":"quantitative","axis":null},"y":{"datum":"qpcr","type":"nominal","axis":null}}},
        {"data":{"values":[{}]},"mark":{"type":"rule","color":"#231f20","strokeWidth":1},"encoding":{"x":{"datum":0,"type":"quantitative","axis":null}}},
        {"data":{"values":[{}]},"mark":{"type":"rule","color":"#231f20","strokeWidth":1},"encoding":{"x":{"datum":100,"type":"quantitative","axis":null}}},
        {"data":{"values":[{}]},"mark":{"type":"rule","color":"#231f20","strokeWidth":1},"encoding":{"y":{"value":0}}},
        {"data":{"values":[{}]},"mark":{"type":"rule","color":"#c4c4c4","strokeWidth":2.5},"encoding":{"y":{"value":"height"}}}
      ]},
     {"width":192,"height":59,"data":{"name":"in3"},
      "layer":[
        {"mark":{"type":"bar","orient":"vertical","width":2.4,"color":"#9b9b9b"},
         "encoding":{"x":{"field":"i","type":"quantitative","scale":{"domain":[-0.5,79.5],"nice":false,"zero":false},"axis":null},
           "y":{"field":"v","type":"quantitative","scale":{"domain":[0,1.1],"nice":false},"axis":null}}},
        {"data":{"values":[{}]},"mark":{"type":"text","text":"[0 - 1.10]","fontSize":5.5,"align":"left","baseline":"middle","dx":4,"dy":10,"color":"#444444"},
         "encoding":{"x":{"datum":-0.5,"type":"quantitative","axis":null},"y":{"datum":1.1,"type":"quantitative","axis":null}}},
        {"data":{"values":[{}]},"mark":{"type":"rule","color":"#231f20","strokeWidth":1},"encoding":{"x":{"datum":-0.5,"type":"quantitative","axis":null}}},
        {"data":{"values":[{}]},"mark":{"type":"rule","color":"#231f20","strokeWidth":1},"encoding":{"x":{"datum":79.5,"type":"quantitative","axis":null}}},
        {"data":{"values":[{}]},"mark":{"type":"rule","color":"#c4c4c4","strokeWidth":2.5},"encoding":{"y":{"datum":0,"type":"quantitative","axis":null}}}
      ]},
     {"width":192,"height":81,"data":{"name":"a3"},
      "layer":[
        {"mark":{"type":"bar","orient":"vertical","width":2.4,"color":"#303030"},
         "encoding":{"x":{"field":"i","type":"quantitative","scale":{"domain":[-0.5,79.5],"nice":false,"zero":false},"axis":null},
           "y":{"field":"v","type":"quantitative","scale":{"domain":[0,1.1],"nice":false},"axis":null}}},
        {"data":{"values":[{}]},"mark":{"type":"text","text":"[0 - 1.10]","fontSize":5.5,"align":"left","baseline":"middle","dx":4,"dy":10,"color":"#444444"},
         "encoding":{"x":{"datum":-0.5,"type":"quantitative","axis":null},"y":{"datum":1.1,"type":"quantitative","axis":null}}},
        {"data":{"values":[{}]},"mark":{"type":"rule","color":"#231f20","strokeWidth":1},"encoding":{"x":{"datum":-0.5,"type":"quantitative","axis":null}}},
        {"data":{"values":[{}]},"mark":{"type":"rule","color":"#231f20","strokeWidth":1},"encoding":{"x":{"datum":79.5,"type":"quantitative","axis":null}}},
        {"data":{"values":[{}]},"mark":{"type":"rule","color":"#c4c4c4","strokeWidth":2.5},"encoding":{"y":{"datum":0,"type":"quantitative","axis":null}}}
      ]},
     {"width":192,"height":40,
      "data":{"values":[{"r":"w/i","s":33.7,"e":52.1},{"r":"w/i","s":66.3,"e":72.6},{"r":"w/i","s":97.4,"e":98.9},{"r":"w/o","s":33.7,"e":52.1}]},
      "layer":[
        {"transform":[{"filter":"datum.r=='w/i'"}],"mark":{"type":"rule","strokeWidth":3,"strokeCap":"butt","color":"#8080e8"},
         "encoding":{"x":{"field":"s","type":"quantitative","scale":{"domain":[0,100],"nice":false,"zero":false},"axis":null},"x2":{"field":"e"},
           "y":{"field":"r","type":"nominal","scale":{"type":"point","domain":["w/i","w/o"],"padding":0.93,"align":0.385},"axis":null}}},
        {"transform":[{"filter":"datum.r=='w/o'"}],"mark":{"type":"rule","strokeWidth":3,"strokeCap":"butt","color":"#9ccf9c"},
         "encoding":{"x":{"field":"s","type":"quantitative","axis":null},"x2":{"field":"e"},"y":{"field":"r","type":"nominal","axis":null}}},
        {"data":{"values":[{}]},"mark":{"type":"rule","color":"#231f20","strokeWidth":1},"encoding":{"x":{"datum":0,"type":"quantitative","axis":null}}},
        {"data":{"values":[{}]},"mark":{"type":"rule","color":"#231f20","strokeWidth":1},"encoding":{"x":{"datum":100,"type":"quantitative","axis":null}}},
        {"data":{"values":[{}]},"mark":{"type":"rule","color":"#c4c4c4","strokeWidth":2.5},"encoding":{"y":{"value":"height"}}}
      ]},
     {"width":192,"height":71,"data":{"name":"b3"},
      "layer":[
        {"mark":{"type":"bar","orient":"vertical","width":2.4,"color":"#303030"},
         "encoding":{"x":{"field":"i","type":"quantitative","scale":{"domain":[-0.5,79.5],"nice":false,"zero":false},"axis":null},
           "y":{"field":"v","type":"quantitative","scale":{"domain":[0,1.1],"nice":false},"axis":null}}},
        {"data":{"values":[{}]},"mark":{"type":"text","text":"[0 - 1.10]","fontSize":5.5,"align":"left","baseline":"middle","dx":4,"dy":10,"color":"#444444"},
         "encoding":{"x":{"datum":-0.5,"type":"quantitative","axis":null},"y":{"datum":1.1,"type":"quantitative","axis":null}}},
        {"data":{"values":[{}]},"mark":{"type":"rule","color":"#231f20","strokeWidth":1},"encoding":{"x":{"datum":-0.5,"type":"quantitative","axis":null}}},
        {"data":{"values":[{}]},"mark":{"type":"rule","color":"#231f20","strokeWidth":1},"encoding":{"x":{"datum":79.5,"type":"quantitative","axis":null}}},
        {"data":{"values":[{}]},"mark":{"type":"rule","color":"#c4c4c4","strokeWidth":2.5},"encoding":{"y":{"datum":0,"type":"quantitative","axis":null}}}
      ]},
     {"width":192,"height":44,
      "data":{"values":[{"r":"w/i","s":5.3,"e":13.2},{"r":"w/i","s":33.2,"e":51.1},{"r":"w/i","s":51.6,"e":55.8},{"r":"w/i","s":84.2,"e":88.4},{"r":"w/o","s":5.3,"e":13.7},{"r":"w/o","s":14.7,"e":19.5},{"r":"w/o","s":22.6,"e":32.1},{"r":"w/o","s":33.2,"e":51.1}]},
      "layer":[
        {"transform":[{"filter":"datum.r=='w/i'"}],"mark":{"type":"rule","strokeWidth":3,"strokeCap":"butt","color":"#8080e8"},
         "encoding":{"x":{"field":"s","type":"quantitative","scale":{"domain":[0,100],"nice":false,"zero":false},"axis":null},"x2":{"field":"e"},
           "y":{"field":"r","type":"nominal","scale":{"type":"point","domain":["w/i","w/o"],"padding":0.967,"align":0.345},"axis":null}}},
        {"transform":[{"filter":"datum.r=='w/o'"}],"mark":{"type":"rule","strokeWidth":3,"strokeCap":"butt","color":"#9ccf9c"},
         "encoding":{"x":{"field":"s","type":"quantitative","axis":null},"x2":{"field":"e"},"y":{"field":"r","type":"nominal","axis":null}}},
        {"data":{"values":[{}]},"mark":{"type":"rule","color":"#231f20","strokeWidth":1},"encoding":{"x":{"datum":0,"type":"quantitative","axis":null}}},
        {"data":{"values":[{}]},"mark":{"type":"rule","color":"#231f20","strokeWidth":1},"encoding":{"x":{"datum":100,"type":"quantitative","axis":null}}},
        {"data":{"values":[{}]},"mark":{"type":"rule","color":"#c4c4c4","strokeWidth":2.5},"encoding":{"y":{"value":"height"}}}
      ]},
     {"width":192,"height":47,
      "data":{"values":[{"r":"w/i","s":33.7,"e":51.1},{"r":"w/o","s":33.7,"e":51.1}]},
      "layer":[
        {"transform":[{"filter":"datum.r=='w/i'"}],"mark":{"type":"rule","strokeWidth":3.5,"strokeCap":"butt","color":"#0000c0"},
         "encoding":{"x":{"field":"s","type":"quantitative","scale":{"domain":[0,100],"nice":false,"zero":false},"axis":null},"x2":{"field":"e"},
           "y":{"field":"r","type":"nominal","scale":{"type":"point","domain":["w/i","w/o"],"padding":1.18,"align":0.4545},"axis":null}}},
        {"transform":[{"filter":"datum.r=='w/o'"}],"mark":{"type":"rule","strokeWidth":3.5,"strokeCap":"butt","color":"#008a00"},
         "encoding":{"x":{"field":"s","type":"quantitative","axis":null},"x2":{"field":"e"},"y":{"field":"r","type":"nominal","axis":null}}},
        {"data":{"values":[{}]},"mark":{"type":"rule","color":"#231f20","strokeWidth":1},"encoding":{"x":{"datum":0,"type":"quantitative","axis":null}}},
        {"data":{"values":[{}]},"mark":{"type":"rule","color":"#231f20","strokeWidth":1},"encoding":{"x":{"datum":100,"type":"quantitative","axis":null}}},
        {"data":{"values":[{}]},"mark":{"type":"rule","color":"#231f20","strokeWidth":1},"encoding":{"y":{"value":"height"}}}
      ]}
   ],"spacing":0,"bounds":"flush"}
 ],"spacing":8,
 "title":{"text":"B","anchor":"start","frame":"group","baseline":"top","offset":-2,"dx":-66,"fontSize":17}}
],
"spacing":25
}
